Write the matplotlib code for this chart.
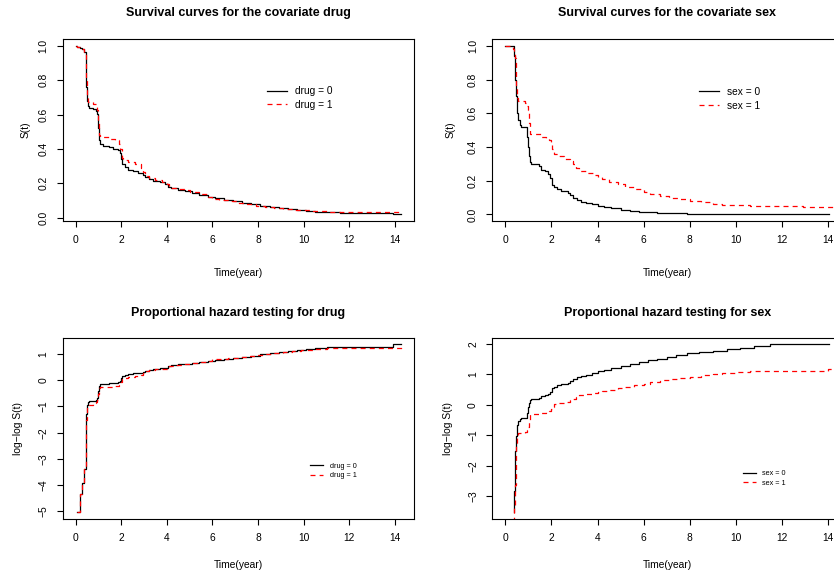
import numpy as np
import matplotlib
matplotlib.use("Agg")
import matplotlib.pyplot as plt
from matplotlib.lines import Line2D

plt.rcParams['font.family'] = ['Liberation Sans', 'DejaVu Sans']
plt.rcParams['axes.unicode_minus'] = True

# ---------------- data (Kaplan-Meier step curves) ----------------
drug0_t = [0, 0.07, 0.18, 0.28, 0.36, 0.45, 0.48, 0.50, 0.53, 0.60, 0.78, 0.88, 0.95, 1.00,
           1.03, 1.08, 1.20, 1.45, 1.65, 1.85, 1.95, 2.00, 2.05, 2.15, 2.30, 2.50, 2.75, 2.95,
           3.05, 3.20, 3.40, 3.70, 3.90, 4.05, 4.20, 4.50, 4.80, 5.10, 5.40, 5.80, 6.10, 6.50,
           6.90, 7.30, 7.70, 8.10, 8.50, 8.90, 9.30, 9.70, 10.10, 10.50, 11.00, 11.60, 13.90]
drug0_s = [1.0, 0.9935, 0.987, 0.980, 0.967, 0.90, 0.76, 0.68, 0.648, 0.640, 0.632, 0.622, 0.605, 0.52,
           0.45, 0.428, 0.418, 0.410, 0.402, 0.395, 0.378, 0.340, 0.315, 0.295, 0.280, 0.270, 0.262, 0.250,
           0.238, 0.225, 0.215, 0.208, 0.198, 0.178, 0.170, 0.162, 0.153, 0.142, 0.133, 0.122, 0.113, 0.104,
           0.095, 0.087, 0.078, 0.069, 0.062, 0.056, 0.050, 0.045, 0.038, 0.033, 0.030, 0.028, 0.0195]
drug0_end = 14.25

drug1_t = [0, 0.07, 0.18, 0.28, 0.36, 0.44, 0.47, 0.50, 0.55, 0.78, 0.88, 0.95, 1.00, 1.03,
           1.08, 1.50, 1.75, 1.90, 1.97, 2.02, 2.08, 2.30, 2.60, 2.85, 2.95, 3.05, 3.20, 3.50,
           3.80, 4.00, 4.10, 4.40, 4.80, 5.00, 5.40, 5.80, 6.00, 6.30, 6.70, 7.10, 7.50, 7.90,
           8.30, 8.70, 9.10, 9.50, 9.90, 10.40, 11.00, 11.80]
drug1_s = [1.0, 0.9935, 0.987, 0.980, 0.967, 0.92, 0.80, 0.70, 0.675, 0.660, 0.645, 0.625, 0.550, 0.480,
           0.468, 0.458, 0.450, 0.430, 0.400, 0.345, 0.335, 0.322, 0.310, 0.290, 0.265, 0.245, 0.232, 0.220,
           0.210, 0.195, 0.175, 0.165, 0.158, 0.148, 0.135, 0.122, 0.110, 0.102, 0.094, 0.086, 0.078, 0.070,
           0.063, 0.057, 0.051, 0.046, 0.042, 0.038, 0.035, 0.033]
drug1_end = 14.3

sex0_t = [0, 0.37, 0.39, 0.41, 0.44, 0.47, 0.50, 0.56, 0.62, 0.66, 0.92, 0.97, 1.02, 1.08,
          1.13, 1.45, 1.55, 1.70, 1.85, 1.95, 2.02, 2.10, 2.25, 2.40, 2.70, 2.80, 2.95, 3.10,
          3.30, 3.50, 3.75, 4.00, 4.30, 4.60, 5.00, 5.40, 5.80, 6.20, 6.60, 7.00, 7.40, 7.90,
          8.40, 9.00, 9.60, 10.20, 10.80, 11.50]
sex0_s = [1.0, 0.971, 0.943, 0.90, 0.80, 0.70, 0.60, 0.56, 0.53, 0.517, 0.46, 0.40, 0.345, 0.31,
          0.30, 0.285, 0.265, 0.255, 0.24, 0.215, 0.176, 0.165, 0.15, 0.138, 0.128, 0.115, 0.098, 0.085,
          0.075, 0.068, 0.06, 0.05, 0.042, 0.035, 0.027, 0.021, 0.017, 0.0135, 0.0108, 0.0078, 0.0058, 0.0045,
          0.0035, 0.0027, 0.002, 0.0015, 0.00105, 0.00067]
sex0_end = 14.05

sex1_t = [0, 0.12, 0.25, 0.33, 0.38, 0.42, 0.45, 0.48, 0.52, 0.56, 0.85, 0.93, 0.98, 1.01,
          1.05, 1.55, 1.78, 1.90, 1.97, 2.03, 2.10, 2.30, 2.55, 2.80, 2.92, 3.05, 3.20, 3.50,
          3.80, 4.00, 4.20, 4.50, 4.90, 5.20, 5.60, 6.00, 6.30, 6.70, 7.10, 7.50, 8.00, 8.50,
          9.00, 9.40, 10.00, 10.60, 12.90, 14.00]
sex1_s = [1.0, 0.997, 0.992, 0.98, 0.966, 0.93, 0.85, 0.75, 0.69, 0.675, 0.66, 0.645, 0.62, 0.54,
          0.48, 0.462, 0.452, 0.44, 0.42, 0.39, 0.36, 0.345, 0.328, 0.315, 0.30, 0.275, 0.255, 0.243,
          0.232, 0.22, 0.208, 0.195, 0.18, 0.165, 0.15, 0.135, 0.12, 0.108, 0.098, 0.09, 0.08, 0.072,
          0.064, 0.057, 0.053, 0.049, 0.046, 0.041]
sex1_end = 14.8

x_ticks = [0, 2, 4, 6, 8, 10, 12, 14]
surv_ticks = [0.0, 0.2, 0.4, 0.6, 0.8, 1.0]
ll_ticks_drug = [-5, -4, -3, -2, -1, 0, 1]
ll_ticks_sex = [-3, -2, -1, 0, 1, 2]

titles = ["Survival curves for the covariate drug", "Survival curves for the covariate sex",
          "Proportional hazard testing for drug", "Proportional hazard testing for sex"]
labels_drug = ["drug = 0", "drug = 1"]
labels_sex = ["sex = 0", "sex = 1"]
x_label = "Time(year)"
y_label_surv = "S(t)"
y_label_ll = "log\u2212log S(t)"

# ---------------- layout ----------------
W, H = 834, 573
fig = plt.figure(figsize=(W / 100, H / 100), dpi=100)


def rect(x0, x1, y0, y1):
    return [x0 / W, 1 - y1 / H, (x1 - x0) / W, (y1 - y0) / H]


def rlim(lo, hi):
    d = 0.04 * (hi - lo)
    return lo - d, hi + d


def steps(t, s, end):
    return np.append(np.asarray(t, float), end), np.append(np.asarray(s, float), s[-1])


def loglog(t, s, end):
    t = np.asarray(t, float)
    s = np.asarray(s, float)
    m = s < 1
    x = np.append(t[m], end)
    y = np.log(-np.log(s[m]))
    return x, np.append(y, y[-1])


BLACK_KW = dict(color='black', lw=0.9, where='post')
RED_KW = dict(color='#ff0000', lw=0.9, linestyle=(0, (4, 3.3)), where='post')


def style(ax, yticks, yfmt):
    for sp in ax.spines.values():
        sp.set_linewidth(0.8)
    ax.tick_params(direction='out', length=4.3, width=0.8, labelsize=7.4, pad=6.0,
                   top=False, right=False, colors='black')
    ax.set_xticks(x_ticks)
    ax.set_xticklabels([str(v) for v in x_ticks])
    ax.set_yticks(yticks)
    ax.set_yticklabels([yfmt(v) for v in yticks], rotation=90, va='center')


def legend(ax, labels, x, y, fs, hl, htp, ls):
    handles = [Line2D([], [], color='black', lw=0.9),
               Line2D([], [], color='#ff0000', lw=0.9, linestyle=(0, (4, 3.3)))]
    ax.legend(handles, labels, loc='upper left', bbox_to_anchor=(x / W, 1 - y / H),
              bbox_transform=fig.transFigure, frameon=False, fontsize=fs, borderpad=0,
              borderaxespad=0, handlelength=hl, handletextpad=htp, labelspacing=ls)


LX = (62.5, 413.8)
RX = (492.4, 842.0)
TY = (39.2, 221.0)
BY = (337.5, 519.0)

panels = [
    (LX, TY, 'surv', (drug0_t, drug0_s, drug0_end), (drug1_t, drug1_s, drug1_end), titles[0],
     labels_drug, (267, 86.5, 7.3, 1.95, 0.85, 0.35)),
    (RX, TY, 'surv', (sex0_t, sex0_s, sex0_end), (sex1_t, sex1_s, sex1_end), titles[1],
     labels_sex, (699, 87, 7.3, 1.95, 0.85, 0.35)),
    (LX, BY, 'll', (drug0_t, drug0_s, drug0_end), (drug1_t, drug1_s, drug1_end), titles[2],
     labels_drug, (310, 462.5, 5.2, 1.8, 0.9, 0.35)),
    (RX, BY, 'll', (sex0_t, sex0_s, sex0_end), (sex1_t, sex1_s, sex1_end), titles[3],
     labels_sex, (743, 470, 5.2, 1.8, 0.9, 0.35)),
]

ylab_x = {(LX, TY): 25.5, (RX, TY): 451, (LX, BY): 18, (RX, BY): 448}

for xs, ys, kind, g0, g1, title, labs, leg in panels:
    ax = fig.add_axes(rect(xs[0], xs[1], ys[0], ys[1]))
    if kind == 'surv':
        x0, y0 = steps(*g0)
        x1, y1 = steps(*g1)
        yticks = surv_ticks
        yfmt = lambda v: f"{v:.1f}"
        ylab = y_label_surv
    else:
        x0, y0 = loglog(*g0)
        x1, y1 = loglog(*g1)
        yticks = ll_ticks_drug if 'drug' in title else ll_ticks_sex
        yfmt = lambda v: f"{v:d}".replace('-', '\u2212')
        ylab = y_label_ll
    ax.step(x0, y0, **BLACK_KW)
    ax.step(x1, y1, **RED_KW)
    ax.set_xlim(*rlim(0, g0[2]))
    ax.set_ylim(*rlim(min(y0.min(), 1 if kind == 'surv' else y0.min()), y0.max()))
    style(ax, yticks, yfmt)
    legend(ax, labs, *leg)
    cx = (xs[0] + xs[1]) / 2
    ty = 13 if ys is TY else 312.7
    ly = 273 if ys is TY else 565
    fig.text(cx / W, 1 - ty / H, title, ha='center', va='center', fontsize=9.0,
             fontweight='bold')
    fig.text(cx / W, 1 - ly / H, x_label, ha='center', va='center', fontsize=7.4)
    fig.text(ylab_x[(xs, ys)] / W, 1 - ((ys[0] + ys[1]) / 2) / H, ylab, ha='center',
             va='center', rotation=90, fontsize=7.4)

fig.savefig("out.png", dpi=100)
